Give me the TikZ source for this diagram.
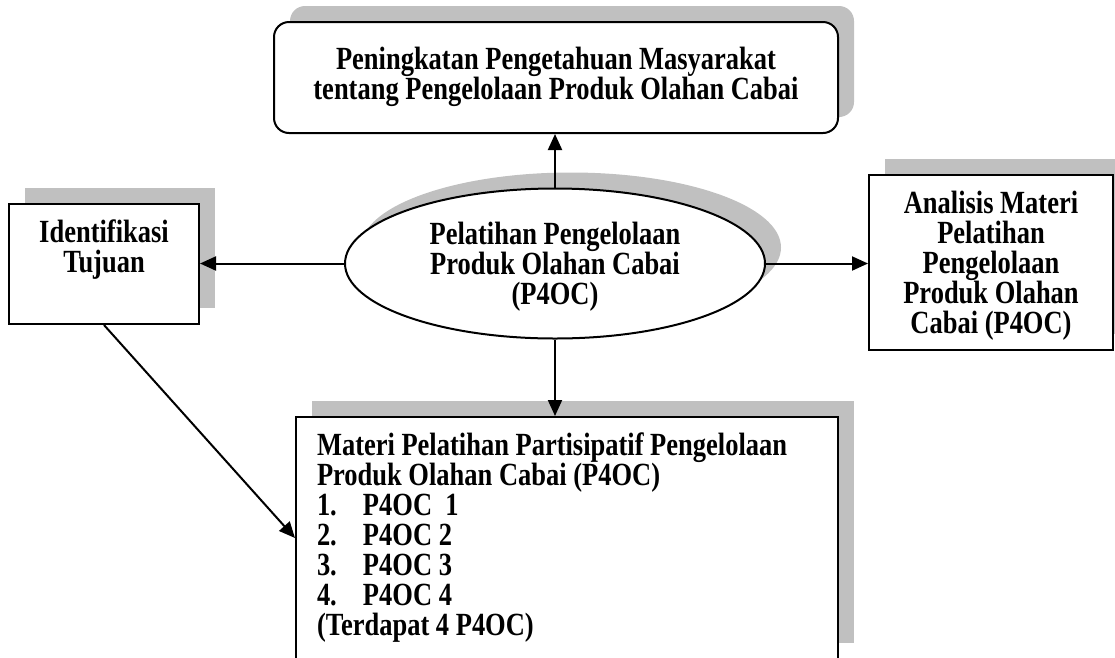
\documentclass[tikz,border=0pt]{standalone}
\usepackage{fontspec}
\setmainfont{Liberation Serif}[FakeStretch=0.82]
\usetikzlibrary{shapes.geometric,shadows,arrows.meta}
\definecolor{bayang}{RGB}{192,192,192}
\tikzset{
  kotak/.style={draw, line width=2pt, fill=white, align=center, inner sep=0pt,
    font=\fontsize{32.3}{30}\selectfont\bfseries,
    drop shadow={shadow xshift=16pt, shadow yshift=16pt, fill=bayang, opacity=1}},
  panah/.style={line width=2pt, -{Triangle[length=16pt,width=14pt]}}
}
\begin{document}
\begin{tikzpicture}[x=1pt,y=-1pt]
    \useasboundingbox (0,0) rectangle (1115,657);

    \node[kotak, rounded corners=15pt, minimum width=564pt, minimum height=111pt, text depth=9pt] (peningkatan) at (556,77.5)
        {Peningkatan Pengetahuan Masyarakat\\tentang Pengelolaan Produk Olahan Cabai};
    \node[kotak, ellipse, minimum width=420pt, minimum height=150pt, text depth=0pt] (pelatihan) at (555,263.5)
        {Pelatihan Pengelolaan\\Produk Olahan Cabai\\(P4OC)};
    \node[kotak, minimum width=190pt, minimum height=120pt, text depth=36pt] (tujuan) at (104,264)
        {Identifikasi\\Tujuan};
    \node[kotak, minimum width=244pt, minimum height=175pt, text depth=0pt] (analisis) at (991,262.5)
        {Analisis Materi\\Pelatihan\\Pengelolaan\\Produk Olahan\\Cabai (P4OC)};
    \node[kotak, minimum width=542pt, minimum height=242pt, text width=500pt, align=flush left] (materi) at (567,538)
        {Materi Pelatihan Partisipatif Pengelolaan\\
         Produk Olahan Cabai (P4OC)\\
         \makebox[46pt][l]{1.}P4OC\ \ 1\\
         \makebox[46pt][l]{2.}P4OC 2\\
         \makebox[46pt][l]{3.}P4OC 3\\
         \makebox[46pt][l]{4.}P4OC 4\\
         (Terdapat 4 P4OC)};

    \draw[panah] (pelatihan.north) -- (pelatihan.north |- peningkatan.south);
    \draw[panah] (pelatihan.west) -- (pelatihan.west -| tujuan.east);
    \draw[panah] (pelatihan.east) -- (pelatihan.east -| analisis.west);
    \draw[panah] (pelatihan.south) -- (pelatihan.south |- materi.north);
    \draw[panah] (tujuan.south) -- (materi.west);
\end{tikzpicture}
\end{document}
